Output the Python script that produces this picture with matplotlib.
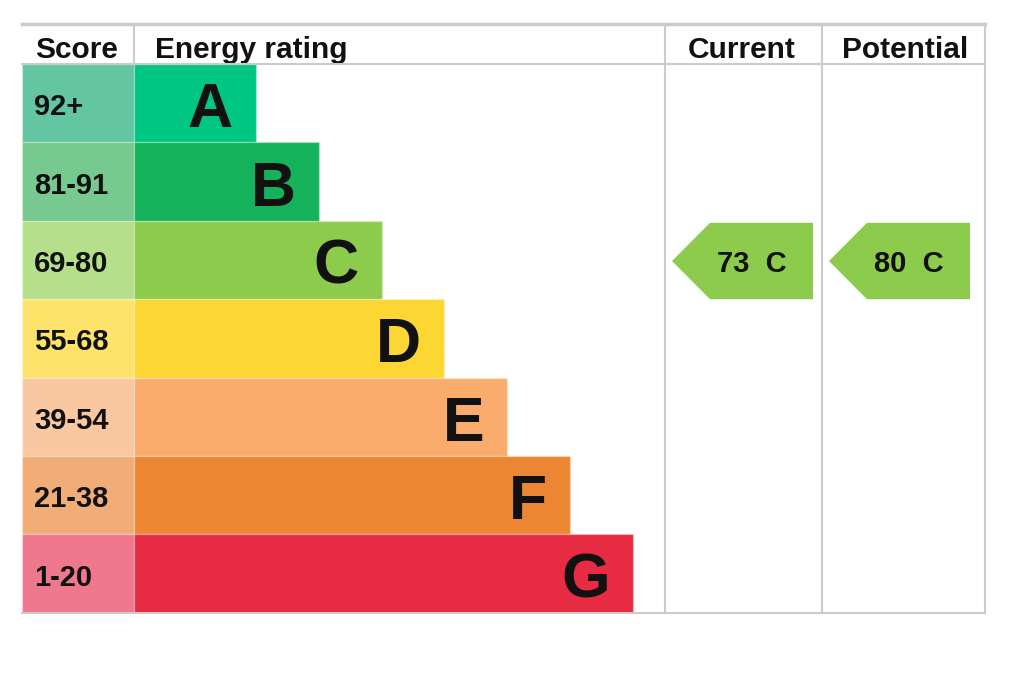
import numpy as np
import matplotlib.pyplot as plt
from matplotlib.patches import Polygon

# Donnees du graphique EPC
ratings = ['A', 'B', 'C', 'D', 'E', 'F', 'G']
score_labels = ['92+', '81-91', '69-80', '55-68', '39-54', '21-38', '1-20']
score_min = [92, 81, 69, 55, 39, 21, 1]
current = 73
potential = 80
headers = ['Score', 'Energy rating', 'Current', 'Potential']

# couleurs (bande / colonne score)
bar_colors = ['#00c683', '#14b25a', '#8ccb4c', '#fcd633', '#f9ac6b', '#ec8633', '#e62b43']
score_colors = ['#63c5a2', '#77c98f', '#b6df8c', '#fde36c', '#f9c8a0', '#f1ad78', '#f0788e']
grid_col = '#cbcbcb'
txt_col = '#111111'

plt.rcParams['font.family'] = ['Liberation Sans', 'DejaVu Sans']

fig = plt.figure(figsize=(10.24, 6.75), dpi=100)
ax = fig.add_axes([0, 0, 1, 1])
ax.set_xlim(0, 1024)
ax.set_ylim(675, 0)
ax.axis('off')

# mise en page (pixels)
x_left, x_score, x_cur, x_pot, x_right = 22, 134, 665, 822, 985
y_top, y_head = 24, 64
row_h = 78.4
step = 62.8
bar0 = 256 - x_score

n = len(ratings)
idx = np.arange(n)
yc = y_head + row_h * (idx + 0.5)
widths = bar0 + step * idx

edge = (1, 1, 1, 0.25)
# colonne score
ax.barh(yc, x_score - x_left, left=x_left, height=row_h, color=score_colors,
        edgecolor=edge, lw=1, zorder=1)
# barres
ax.barh(yc, widths, left=x_score, height=row_h, color=bar_colors,
        edgecolor=edge, lw=1, zorder=1)

for i in range(n):
    ax.text(x_left + 12, yc[i] + 12, score_labels[i], fontsize=21, fontweight='bold',
            color=txt_col, ha='left', va='baseline', zorder=3)
    ax.text(x_score + widths[i] - 23, yc[i] + 24, ratings[i], fontsize=45, fontweight='bold',
            color=txt_col, ha='right', va='baseline', zorder=3)

# en-tetes
hy = 58.5
ax.text(x_left + 13, hy, headers[0], fontsize=21.5, fontweight='bold', color=txt_col, ha='left', va='baseline')
ax.text(x_score + 21, hy, headers[1], fontsize=21.5, fontweight='bold', color=txt_col, ha='left', va='baseline')
ax.text((x_cur + x_pot) / 2 - 2, hy, headers[2], fontsize=21.5, fontweight='bold', color=txt_col, ha='center', va='baseline')
ax.text((x_pot + x_right) / 2 + 2, hy, headers[3], fontsize=21.5, fontweight='bold', color=txt_col, ha='center', va='baseline')


def band_of(score):
    for i, m in enumerate(score_min):
        if score >= m:
            return i
    return n - 1


# fleches courant / potentiel
arrow_w = 141
for val, xl in [(current, x_cur), (potential, x_pot)]:
    b = band_of(val)
    y0 = y_head + row_h * b + 2
    y1 = y_head + row_h * (b + 1)
    ym = (y0 + y1) / 2
    left = xl + 7
    right = left + arrow_w
    pts = [(left, ym), (left + 38, y0), (right, y0), (right, y1), (left + 38, y1)]
    ax.add_patch(Polygon(pts, closed=True, color=bar_colors[b], lw=0, zorder=2))
    ax.text(left + 45, ym + 11, f'{val}  {ratings[b]}', fontsize=21, fontweight='bold',
            color=txt_col, ha='left', va='baseline', zorder=3)

# lignes de la grille
y_bot = y_head + row_h * n
ax.plot([x_left, x_right], [y_top, y_top], color=grid_col, lw=2.5, zorder=4)
ax.plot([x_left, x_right], [y_head, y_head], color=grid_col, lw=1.5, zorder=4)
ax.plot([x_left, x_right], [y_bot, y_bot], color=grid_col, lw=1.5, zorder=4)
ax.plot([x_score, x_score], [y_top, y_head], color=grid_col, lw=1.5, zorder=4)
for xv in [x_cur, x_pot, x_right]:
    ax.plot([xv, xv], [y_top, y_bot], color=grid_col, lw=1.5, zorder=4)

plt.savefig('out.png', dpi=100)
